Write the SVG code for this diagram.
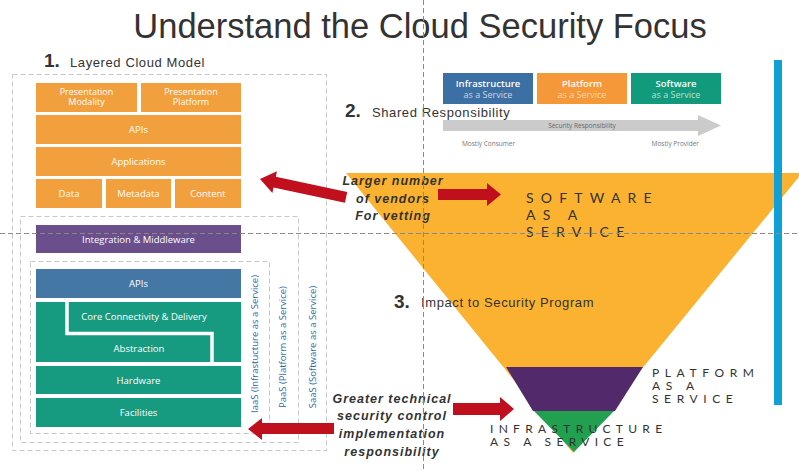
<svg xmlns="http://www.w3.org/2000/svg" width="799" height="471" viewBox="0 0 799 471">
<style>
.bt{font-family:"Open Sans","Liberation Sans",sans-serif;font-size:9.5px;fill:#fff;text-anchor:middle}
.bt2{font-family:"Open Sans","Liberation Sans",sans-serif;font-size:9px;fill:#fff;text-anchor:middle}
.hd{font-family:"Liberation Sans",Arial,sans-serif;font-size:13px;fill:#333;letter-spacing:0.6px}
.num{font-family:"Liberation Sans",Arial,sans-serif;font-size:19px;font-weight:bold;fill:#333}
.dash{fill:none;stroke:#c8c8c8;stroke-width:1;stroke-dasharray:5 3}
.cross{fill:none;stroke:#8a8a8a;stroke-width:1;stroke-dasharray:5 3}
.or{fill:#F2A03D}
.tl{fill:#169A80}
.vl{font-family:"Open Sans","Liberation Sans",sans-serif;font-size:9.5px;fill:#2D6BA3;text-anchor:middle}
.arr{fill:#C0101E}
.note{font-family:"Liberation Sans",Arial,sans-serif;font-size:12.5px;font-weight:bold;font-style:italic;fill:#333;text-anchor:middle;letter-spacing:1px}
.tri{font-family:"Lato","Liberation Sans",sans-serif;fill:#333}
.sr{font-family:"Open Sans","Liberation Sans",sans-serif;text-anchor:middle}
</style>
<rect width="799" height="471" fill="#fff"/>

<text x="420" y="38" font-family="'Liberation Sans',Arial,sans-serif" font-size="34.5" fill="#333" text-anchor="middle">Understand the Cloud Security Focus</text>

<g id="section1-heading">
<text x="44" y="67" class="num">1.</text>
<text x="70" y="67" class="hd">Layered Cloud Model</text>
</g>

<g id="scope-boxes">
<rect class="dash" x="12.5" y="74.5" width="314" height="376"/>
<rect class="dash" x="20.5" y="216.5" width="278" height="226"/>
<rect class="dash" x="30.5" y="261.5" width="239" height="172"/>
</g>

<g id="presentation-modality"><rect class="or" x="36" y="83" width="101" height="29"/><text class="bt2" x="86.5" y="95">Presentation</text><text class="bt2" x="86.5" y="104.5">Modality</text></g>
<g id="presentation-platform"><rect class="or" x="141" y="83" width="100" height="29"/><text class="bt2" x="191" y="95">Presentation</text><text class="bt2" x="191" y="104.5">Platform</text></g>
<g id="apis-top"><rect class="or" x="36" y="115" width="205" height="29"/><text class="bt" x="138.5" y="133">APIs</text></g>
<g id="applications"><rect class="or" x="36" y="147" width="205" height="29"/><text class="bt" x="138.5" y="165">Applications</text></g>
<g id="data"><rect class="or" x="36" y="179" width="66" height="29"/><text class="bt" x="69" y="197">Data</text></g>
<g id="metadata"><rect class="or" x="106" y="179" width="65" height="29"/><text class="bt" x="138.5" y="197">Metadata</text></g>
<g id="content"><rect class="or" x="175" y="179" width="66" height="29"/><text class="bt" x="208" y="197">Content</text></g>

<g id="integration"><rect x="36" y="225" width="205" height="28" fill="#6A4F8C"/><text class="bt" x="138.5" y="243">Integration &amp; Middleware</text></g>
<g id="apis-bottom"><rect x="36" y="269" width="205" height="29" fill="#4477A4"/><text class="bt" x="138.5" y="287">APIs</text></g>
<g id="core-abstraction">
<rect class="tl" x="36" y="302" width="205" height="60"/>
<polyline points="67,301 67,333.5 212,333.5 212,363" fill="none" stroke="#fff" stroke-width="3.5"/>
<text class="bt" x="144" y="320">Core Connectivity &amp; Delivery</text>
<text class="bt" x="139" y="352">Abstraction</text>
</g>
<g id="hardware"><rect class="tl" x="36" y="366" width="205" height="28"/><text class="bt" x="138.5" y="384">Hardware</text></g>
<g id="facilities"><rect class="tl" x="36" y="398" width="205" height="29"/><text class="bt" x="138.5" y="416">Facilities</text></g>

<g id="service-labels">
<text class="vl" transform="translate(258,344) rotate(-90)">IaaS (Infrastucture as a Service)</text>
<text class="vl" transform="translate(286,347) rotate(-90)">PaaS (Platform as a Service)</text>
<text class="vl" transform="translate(316,347) rotate(-90)">SaaS (Software as a Service)</text>
</g>

<g id="inverted-triangle">
<polygon points="346,173 802,173 573,453" fill="#FBB230"/>
<polygon points="506,367 643,367 615,411 533,411" fill="#52296A"/>
<polygon points="534,411 614,411 574,452" fill="#21A04F"/>
</g>

<g id="section2">
<text x="345" y="117" class="num">2.</text>
<text x="372" y="117" class="hd">Shared Responsibility</text>
<g id="iaas-box"><rect x="443" y="73" width="90" height="31" fill="#3C6FA3"/><text class="sr" x="488" y="86.5" font-size="9.5" font-weight="600" fill="#fff">Infrastructure</text><text class="sr" x="488" y="97.5" font-size="9" fill="#c9d6e6">as a Service</text></g>
<g id="paas-box"><rect x="537" y="73" width="90" height="31" fill="#F5983A"/><text class="sr" x="582" y="86.5" font-size="9.5" font-weight="600" fill="#fff">Platform</text><text class="sr" x="582" y="97.5" font-size="9" fill="#fcd5a8">as a Service</text></g>
<g id="saas-box"><rect x="631" y="73" width="90" height="31" fill="#129A7D"/><text class="sr" x="676" y="86.5" font-size="9.5" font-weight="600" fill="#fff">Software</text><text class="sr" x="676" y="97.5" font-size="9" fill="#b5e0d5">as a Service</text></g>
<g id="security-responsibility-arrow">
<polygon points="443,120 698,120 698,115 721,125.5 698,136 698,131 443,131" fill="#cbcbcb"/>
<text class="sr" x="582" y="128" font-size="6.5" fill="#666">Security Responsibility</text>
</g>
<text x="462" y="146" font-family="'Open Sans','Liberation Sans',sans-serif" font-size="6.5" fill="#777">Mostly Consumer</text>
<text x="699" y="146" font-family="'Open Sans','Liberation Sans',sans-serif" font-size="6.5" fill="#777" text-anchor="end">Mostly Provider</text>
</g>

<rect id="blue-bar" x="774" y="60" width="8" height="345" fill="#0EA0D6"/>

<g id="triangle-labels">
<text class="tri" x="526" y="203" font-size="14" letter-spacing="7.2">SOFTWARE</text>
<text class="tri" x="526" y="220" font-size="14" letter-spacing="7.2">AS A</text>
<text class="tri" x="526" y="237" font-size="14" letter-spacing="7.2">SERVICE</text>
<text class="tri" x="652" y="377" font-size="12" letter-spacing="5.6">PLATFORM</text>
<text class="tri" x="652" y="390" font-size="12" letter-spacing="5.6">AS A</text>
<text class="tri" x="652" y="403" font-size="12" letter-spacing="5.6">SERVICE</text>
<text class="tri" x="490" y="433" font-size="12" letter-spacing="5.3">INFRASTRUCTURE</text>
<text class="tri" x="490" y="446" font-size="12" letter-spacing="5.3">AS A SERVICE</text>
</g>

<g id="section3">
<text x="394" y="308" class="num">3.</text>
<text x="421" y="307" class="hd">Impact to Security Program</text>
</g>

<g id="notes">
<text class="note" x="393" y="185">Larger number</text>
<text class="note" x="393" y="203">of vendors</text>
<text class="note" x="393" y="220">For vetting</text>
<text class="note" x="392" y="403">Greater technical</text>
<text class="note" x="392" y="420">security control</text>
<text class="note" x="392" y="438">implementation</text>
<text class="note" x="392" y="456">responsibility</text>
</g>

<g id="connectors">
<polygon class="arr" transform="translate(260,179) rotate(12)" points="0,0 15,-11 15,-5.5 88,-5.5 88,5.5 15,5.5 15,11"/>
<polygon class="arr" points="438,189 487,189 487,183 501,194.5 487,206 487,200 438,200"/>
<polygon class="arr" points="453,403 500,403 500,397 514,409 500,421 500,415 453,415"/>
<polygon class="arr" points="334,423 262,423 262,418 248,429 262,440 262,434 334,434"/>
</g>

<g id="guides">
<line class="cross" x1="423.5" y1="0" x2="423.5" y2="471"/>
<line class="cross" x1="0" y1="233.5" x2="799" y2="233.5"/>
</g>
</svg>
